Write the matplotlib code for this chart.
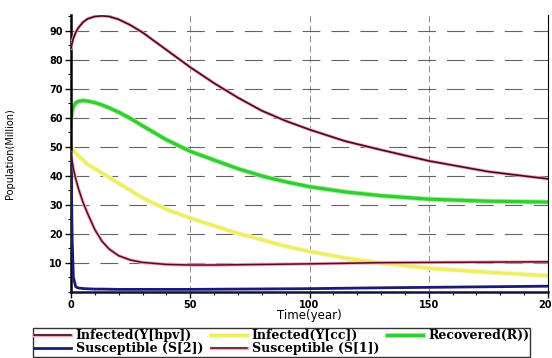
import matplotlib
matplotlib.use("Agg")
import matplotlib.pyplot as plt
import matplotlib.patheffects as pe
from matplotlib.ticker import MultipleLocator

# ---- data ----
t = [0, 0.5, 1, 2, 3, 5, 7, 10, 13, 16, 20, 25, 30, 40, 50, 60, 70, 80, 90,
     100, 115, 130, 150, 175, 200]
y_hpv = [84, 86, 87.5, 89.5, 91, 93, 94.2, 95, 95.2, 95, 94, 92, 89.5, 83.5,
         77.5, 72, 67, 62.5, 59, 56, 52, 49, 45.2, 41.5, 39]
y_cc = [50, 49.5, 49, 48, 47, 45.5, 44, 42.5, 41, 39.5, 37.5, 35, 32.5, 28.5,
        25.5, 22.8, 20.2, 18, 15.8, 14, 11.7, 10, 8.2, 6.8, 5.6]
rec = [60, 62.5, 64, 65.2, 65.7, 66, 65.8, 65.3, 64.5, 63.5, 62, 59.8, 57.3,
       52.5, 48.5, 45.5, 42.5, 40, 38, 36.3, 34.5, 33.2, 32, 31.3, 31]
s2 = [48, 18, 5, 1.8, 1.4, 1.2, 1.1, 1.0, 1.0, 0.95, 0.9, 0.9, 0.9, 0.9,
      0.9, 0.95, 1.0, 1.05, 1.1, 1.15, 1.3, 1.45, 1.6, 1.8, 2.0]
s1 = [48, 45, 42.5, 39, 36, 31, 27, 21.5, 17.5, 14.8, 12.5, 11, 10.2, 9.5,
      9.3, 9.3, 9.4, 9.5, 9.6, 9.7, 9.9, 10.1, 10.2, 10.3, 10.4]

labels = ["Infected(Y[hpv])", "Infected(Y[cc])", "Recovered(R))",
          "Susceptible (S[2])", "Susceptible (S[1])"]
xticks = [0, 50, 100, 150, 200]
yticks = [10, 20, 30, 40, 50, 60, 70, 80, 90]

fig = plt.figure(figsize=(5.52, 3.58), dpi=100)
ax = fig.add_axes([0.1286, 0.1844, 0.9928 - 0.1286, 0.958 - 0.1844])

# grid
for yv in yticks:
    ax.axhline(yv, color="#222222", lw=0.8, ls=(0, (16, 10)), alpha=0.7, zorder=0)
for xv in [50, 100, 150]:
    ax.axvline(xv, color="#444444", lw=0.6, ls=(0, (8, 4)), alpha=0.7, zorder=0)

glow_red = [pe.Stroke(linewidth=2.4, foreground="#f0a8b8"), pe.Normal()]
glow_g = [pe.Stroke(linewidth=3.6, foreground="#a8f0a0"), pe.Normal()]
glow_y = [pe.Stroke(linewidth=3.6, foreground="#f8f8c0"), pe.Normal()]

l_hpv, = ax.plot(t, y_hpv, color="#4a0a1c", lw=1.2, path_effects=glow_red, zorder=3)
l_cc, = ax.plot(t, y_cc, color="#eeee66", lw=2.3, path_effects=glow_y, zorder=2)
l_r, = ax.plot(t, rec, color="#33cc33", lw=2.3, path_effects=glow_g, zorder=2)
l_s2, = ax.plot(t, s2, color="#1a1a78", lw=2.0, zorder=4)
l_s1, = ax.plot(t, s1, color="#5a0a22", lw=1.1, path_effects=glow_red, zorder=3)

ax.set_xlim(0, 200)
ax.set_ylim(0, 95.5)
ax.set_xticks(xticks)
ax.set_yticks(yticks)
ax.xaxis.set_minor_locator(MultipleLocator(10))
ax.yaxis.set_minor_locator(MultipleLocator(5))
ax.tick_params(axis="both", which="major", length=4, width=1, labelsize=7,
               pad=2, color="#111111")
ax.tick_params(axis="both", which="minor", length=2, width=0.8, color="#111111")
for lab in ax.get_xticklabels() + ax.get_yticklabels():
    lab.set_fontweight("bold")

ax.spines["top"].set_visible(False)
ax.spines["left"].set_linewidth(1.8)
ax.spines["bottom"].set_linewidth(1.8)
ax.spines["bottom"].set_color("#111133")
ax.spines["right"].set_linewidth(0.8)

ax.set_xlabel("Time(year)", fontsize=8.5, labelpad=-1)
ax.set_ylabel("Population(Million)", fontsize=7)
ax.yaxis.set_label_coords(-0.118, 0.5)

handles = [l_hpv, l_s2, l_cc, l_s1, l_r]
hl = [labels[0], labels[3], labels[1], labels[4], labels[2]]
leg = fig.legend(handles, hl, ncol=3, loc="lower left",
                 bbox_to_anchor=(0.06, 0.004),
                 prop={"family": "DejaVu Serif", "weight": "bold", "size": 9},
                 frameon=True, fancybox=False, edgecolor="black",
                 borderpad=0.1, handlelength=2.9, handletextpad=0.4,
                 columnspacing=0.6, labelspacing=0.0, borderaxespad=0.0)
leg.get_frame().set_linewidth(1.0)

fig.savefig("out.png", dpi=100)
